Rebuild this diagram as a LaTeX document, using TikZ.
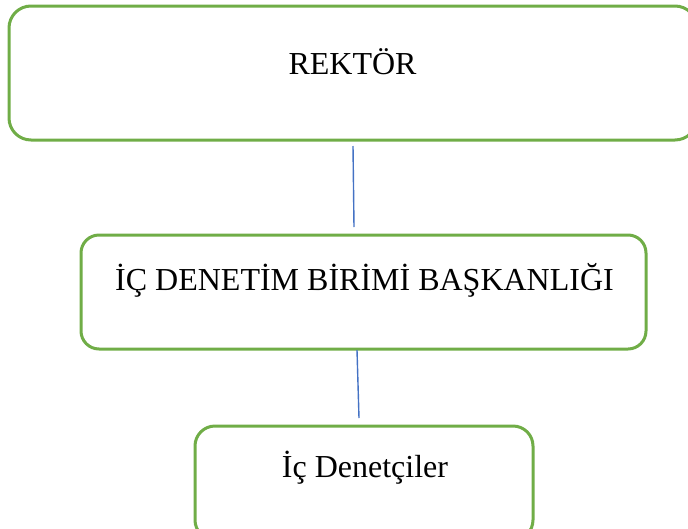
\documentclass[tikz,border=0pt]{standalone}
\usepackage{fontspec}
\setmainfont{Liberation Serif}
\definecolor{boxgreen}{HTML}{70AD47}
\definecolor{lineblue}{HTML}{4472C4}
\begin{document}
\begin{tikzpicture}[x=1pt,y=-1pt,
  orgbox/.style={draw=boxgreen,line width=3pt,rounded corners=22pt,rectangle,inner sep=0pt,fill=none},
  orgtext/.style={anchor=base,inner sep=0pt,font=\fontsize{32}{38}\selectfont},
  conn/.style={draw=lineblue,line width=1.4pt}]
\useasboundingbox (0,0) rectangle (688,528);
\node[orgbox,minimum width=688pt,minimum height=134pt] (b1) at (353,73) {};
\node[orgbox,rounded corners=18pt,minimum width=565pt,minimum height=114pt] (b2) at (363.5,292) {};
\node[orgbox,rounded corners=20pt,minimum width=338pt,minimum height=114pt] (b3) at (364,483) {};
\node[orgtext] (t1) at (352.5,74) {REKTÖR};
\node[orgtext] (t2) at (364.5,290) {İÇ DENETİM BİRİMİ BAŞKANLIĞI};
\node[orgtext] (t3) at (365,477) {İç Denetçiler};
\coordinate (c1a) at (353,146);
\coordinate (c1b) at (354,227);
\coordinate (c2a) at (357,350);
\coordinate (c2b) at (359,418);
\draw[conn] (c1a) -- (c1b);
\draw[conn] (c2a) -- (c2b);
\end{tikzpicture}
\end{document}
